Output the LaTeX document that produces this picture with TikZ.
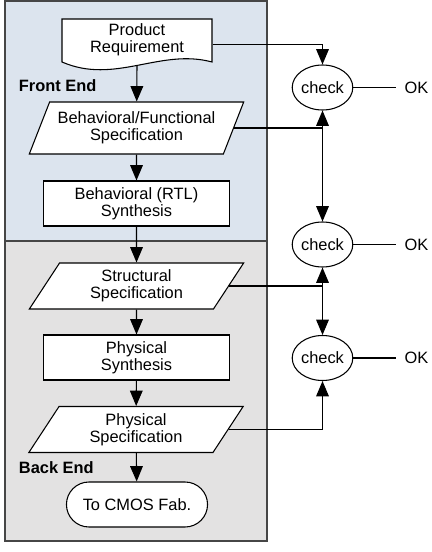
\documentclass[tikz,border=0pt]{standalone}
\usepackage{fontspec}
\setmainfont{Liberation Sans}
\usetikzlibrary{arrows.meta,shapes.geometric,shapes.misc}
\definecolor{frontbg}{RGB}{220,228,238}
\definecolor{backbg}{RGB}{227,226,226}
\definecolor{edge}{RGB}{70,70,70}
\tikzset{
  every node/.style={font=\fontsize{12.3}{13}\selectfont, align=center},
  stage/.style={draw, fill=white, minimum width=140pt, minimum height=33.75pt, inner sep=1pt},
  spec/.style={trapezium, trapezium left angle=62, trapezium right angle=118,
    trapezium stretches, draw, fill=white, minimum width=161pt, minimum height=34.5pt, inner sep=1pt},
  check/.style={ellipse, draw, fill=white, minimum width=42.75pt, minimum height=33.75pt, inner sep=0pt},
  term/.style={rounded rectangle, draw, fill=white, minimum width=112.5pt, minimum height=33.75pt},
  okay/.style={inner xsep=6pt},
  part/.style={anchor=west, font=\bfseries\fontsize{12.3}{13}\selectfont},
  flow/.style={-{Triangle[length=11.5pt,width=9.5pt]}},
  twoway/.style={{Triangle[length=11.5pt,width=9.5pt]}-{Triangle[length=11.5pt,width=9.5pt]}},
}
\begin{document}
\begin{tikzpicture}[x=0.75pt,y=-0.75pt,line width=0.8pt]
   \useasboundingbox (0,0) rectangle (431,552);
   \draw[edge,line width=1pt,fill=frontbg] (5,1) rectangle (267,241);
   \draw[edge,line width=1pt,fill=backbg]  (5,241) rectangle (267,541);
   \node[part] (front) at (14,86)  {Front End};
   \node[part] (back)  at (14,468) {Back End};

   \draw[fill=white] (62,62) -- (62,19) -- (212,19) -- (212,62)
        .. controls (160,48) and (115,85) .. (62,62) -- cycle;
   \node[minimum width=112.5pt, minimum height=32pt] (req) at (137,40) {Product\\Requirement};
   \coordinate (reqfoot) at (137,66);
   \node[spec, minimum height=39pt] (spec1) at (136.5,128)   {Behavioral/Functional\\Specification};
   \node[stage]                     (rtl)   at (136.5,203.5) {Behavioral (RTL)\\Synthesis};
   \node[spec]                      (spec2) at (136.5,286)   {Structural\\Specification};
   \node[stage]                     (phys)  at (136.5,357.5) {Physical\\Synthesis};
   \node[spec]                      (spec3) at (136,429.5)   {Physical\\Specification};
   \node[term]                      (fab)   at (137,504.5)   {To CMOS Fab.};

   \node[check] (chk1) at (322.5,87.5) {check};
   \node[check] (chk2) at (322.5,244.5) {check};
   \node[check] (chk3) at (322.5,358)  {check};
   \node[okay]  (ok1)  at (416.5,87.5) {OK};
   \node[okay]  (ok2)  at (416.5,244.5) {OK};
   \node[okay]  (ok3)  at (416.5,358)  {OK};

   \draw[flow] (reqfoot) -- (spec1);
   \draw[flow] (spec1) -- (rtl);
   \draw[flow] (rtl) -- (spec2);
   \draw[flow] (spec2) -- (phys);
   \draw[flow] (phys) -- (spec3);
   \draw[flow] (spec3) -- (fab);

   \draw[flow] ([yshift=-3.5pt]req.east) -| (chk1);
   \draw       (spec1.east) -- (spec1.east -| chk1.south);
   \draw[twoway] (chk1) -- (chk2);
   \draw       (spec2.east) -- (spec2.east -| chk2.south);
   \draw[twoway] (chk2) -- (chk3);
   \draw[flow] (spec3.east) -| (chk3);
   \draw (chk1) -- (ok1);
   \draw (chk2) -- (ok2);
   \draw (chk3) -- (ok3);
\end{tikzpicture}
\end{document}
